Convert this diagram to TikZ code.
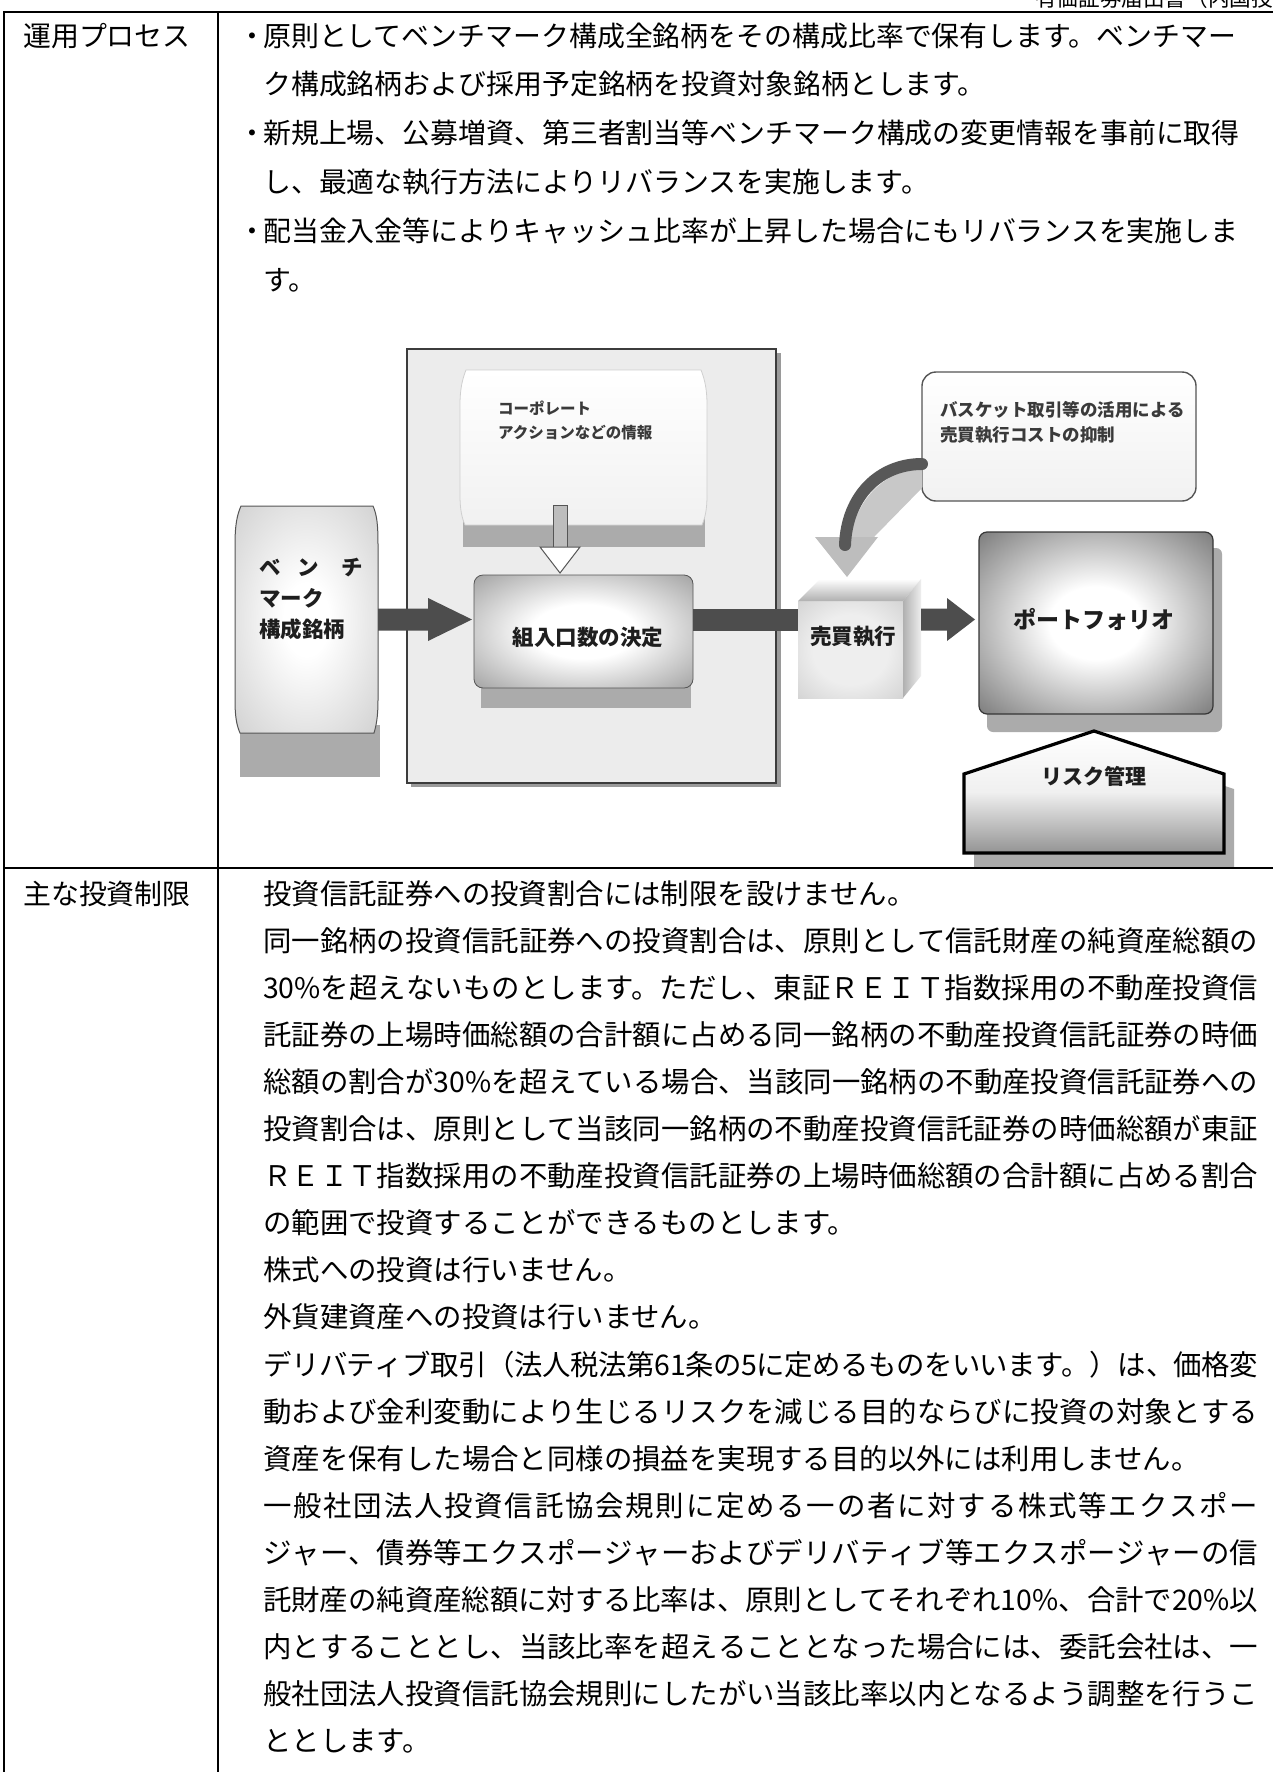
\documentclass[tikz,border=0pt]{standalone}
\usepackage{fontspec}
\setmainfont{Noto Sans CJK JP}
\usetikzlibrary{calc}
\XeTeXlinebreaklocale "ja"
\XeTeXlinebreakskip=0pt plus 1fil minus 3pt
\definecolor{arrowgray}{HTML}{4D4D4D}
\definecolor{panelfill}{HTML}{ECECEC}
\definecolor{panelline}{HTML}{3C3C3C}
\definecolor{panelshadow}{HTML}{9A9A9A}
\definecolor{shadowgray}{HTML}{ABABAB}
\definecolor{benchout}{HTML}{C0C0C0}
\definecolor{kumiout}{HTML}{6A6A6A}
\definecolor{portout}{HTML}{464646}
\definecolor{portout2}{HTML}{363636}
\definecolor{cubein}{HTML}{EEEEEE}
\definecolor{cubeout}{HTML}{B0B0B0}
\definecolor{diagtext}{HTML}{1E1E1E}
\definecolor{softtext}{HTML}{3A3A3A}
\definecolor{headgray}{HTML}{BDBDBD}
\definecolor{bandgray}{HTML}{C8C8C8}
\definecolor{curvegray}{HTML}{585858}
\definecolor{boxline}{HTML}{555555}
\definecolor{hollowfill}{HTML}{BDBDBD}
\definecolor{corpline}{HTML}{CFCFCF}
\definecolor{corpbottom}{HTML}{F1F1F1}
\pgfdeclareradialshading{benchshade}{\pgfpoint{0bp}{0bp}}{color(0bp)=(white); color(8bp)=(white); color(46bp)=(benchout); color(75bp)=(benchout)}
\pgfdeclareradialshading{kumishade}{\pgfpoint{0bp}{0bp}}{color(0bp)=(white); color(12bp)=(white); color(50bp)=(kumiout); color(75bp)=(kumiout)}
\pgfdeclareradialshading{portshade}{\pgfpoint{0bp}{0bp}}{color(0bp)=(white); color(10bp)=(white); color(46bp)=(portout); color(75bp)=(portout2)}
\pgfdeclareradialshading{cubeshade}{\pgfpoint{0bp}{0bp}}{color(0bp)=(cubein); color(18bp)=(cubein); color(60bp)=(cubeout); color(75bp)=(cubeout)}
\tikzset{
  txtA/.style={anchor=base west, inner sep=0pt, font=\fontsize{27.9}{30}\selectfont},
  txtB/.style={anchor=base west, inner sep=0pt, font=\fontsize{28.4}{30}\selectfont},
  diagb/.style={inner sep=0pt, text=diagtext, font=\bfseries\fontsize{#1}{#1}\selectfont},
  diagl/.style={anchor=west, inner sep=0pt, text=softtext, font=\bfseries\fontsize{#1}{#1}\selectfont},
  shadowfill/.style={fill=shadowgray},
  tableline/.style={line width=1.6pt, draw=black},
  ghost/.style={inner sep=0pt, outer sep=0pt, draw=none}
}
\newcommand{\fullline}[1]{\parbox[b]{995pt}{\parfillskip=0pt\relax #1}}
\newcommand{\blockarrow}[3]{\fill[arrowgray] ($(#1)+(0,-11)$) -- ($(#2)+(-#3,-11)$) -- ($(#2)+(-#3,-21.5)$) -- (#2) -- ($(#2)+(-#3,21.5)$) -- ($(#2)+(-#3,11)$) -- ($(#1)+(0,11)$) -- cycle;}
\begin{document}
\begin{tikzpicture}[x=1pt, y=-1pt]
\clip (0,0) rectangle (1273,1772);
\fill[white] (0,0) rectangle (1273,1772);

% header (clipped at the top of the page)
\node[anchor=base west, inner sep=0pt, font=\fontsize{21.6}{22}\selectfont] (hdr) at (1035,6.5) {有価証券届出書（内国投資信託受益証券）};

% ---------------- row 1 text ----------------
\node[txtA] (lab1) at (23,46) {運用プロセス};
\node[txtA] (b1) at (238,46) {・};
\node[txtA] (t1) at (263,46) {原則としてベンチマーク構成全銘柄をその構成比率で保有します。ベンチマー};
\node[txtA] (t2) at (263,94.8) {ク構成銘柄および採用予定銘柄を投資対象銘柄とします。};
\node[txtA] (b3) at (238,143.6) {・};
\node[txtA] (t3) at (263,143.6) {新規上場、公募増資、第三者割当等ベンチマーク構成の変更情報を事前に取得};
\node[txtA] (t4) at (263,192.4) {し、最適な執行方法によりリバランスを実施します。};
\node[txtA] (b5) at (238,241.2) {・};
\node[txtA] (t5) at (263,241.2) {配当金入金等によりキャッシュ比率が上昇した場合にもリバランスを実施しま};
\node[txtA] (t6) at (263,290) {す。};

% ---------------- diagram ----------------
% container panel
\fill[panelshadow] (776,353) rectangle (781,787);
\fill[panelshadow] (411,783) rectangle (781,787);
\node[ghost, draw=panelline, line width=2pt, fill=panelfill, minimum width=369pt, minimum height=434pt, anchor=north west] (panel) at (407,349) {};

% benchmark box
\fill[shadowgray] (240,725) rectangle (380,777);
\path[shade, shading=benchshade, draw=boxline, line width=1pt]
  (241,506) -- (373,506) .. controls (377,515) and (378,525) .. (378,545) -- (378,700)
  .. controls (378,718) and (376,726) .. (374,733) -- (240,733)
  .. controls (237,726) and (235,718) .. (235,700) -- (235,545)
  .. controls (235,525) and (237,515) .. (241,506) -- cycle;
\node[ghost, minimum width=143pt, minimum height=227pt] (bench) at (306.5,619.5) {};
\node[diagb=21.5, anchor=west] (bench1) at (259,568) {ベ\hspace{17pt}ン\hspace{22pt}チ};
\node[diagb=21.5, anchor=west] (bench2) at (259,598) {マーク};
\node[diagb=21.5, anchor=west] (bench3) at (259,629) {構成銘柄};

% corporate action box
\fill[shadowgray] (463,515) rectangle (705,547);
\path[top color=white, bottom color=corpbottom, draw=corpline, line width=0.8pt]
  (466,370) -- (701,370) .. controls (705,380) and (707,390) .. (707,405) -- (707,495)
  .. controls (707,510) and (705,518) .. (702,525) -- (465,525)
  .. controls (462,518) and (460,510) .. (460,495) -- (460,405)
  .. controls (460,390) and (462,380) .. (466,370) -- cycle;
\node[ghost, minimum width=247pt, minimum height=155pt] (corp) at (583.5,447.5) {};
\node[diagl=15.5] (corp1) at (498,408) {コーポレート};
\node[diagl=15.5] (corp2) at (498,433) {アクションなどの情報};

% decision box
\fill[shadowgray] (481,680) rectangle (691,708);
\node[ghost, draw=boxline, line width=0.8pt, rounded corners=9pt, shade, shading=kumishade, minimum width=219pt, minimum height=113pt] (kumi) at (583.5,631.5) {};
\node[diagb=21.5] (kumitext) at (588,637) {組入口数の決定};

% hollow arrow: corporate info -> decision
\coordinate (htip) at ($(kumi.north)+(-23.5,-2)$);
\filldraw[fill=hollowfill, draw=boxline, line width=0.8pt] ($(htip)+(-7,-68)$) rectangle ($(htip)+(7,-26)$);
\filldraw[fill=white, draw=boxline, line width=1pt] ($(htip)+(-20,-26)$) -- ($(htip)+(20,-26)$) -- (htip) -- cycle;

% arrow: benchmark -> decision
\coordinate (a1s) at (bench.east);
\coordinate (a1e) at ($(bench.east -| kumi.west)+(-2,0)$);
\blockarrow{a1s}{a1e}{44}

% cube (execution)
\node[ghost, minimum width=105pt, minimum height=97pt, shade, shading=cubeshade] (cube) at (850.5,649.5) {};
\path[top color=white, bottom color=cubeout] (798,601) -- (820,579) -- (921,579) -- (903,601) -- cycle;
\path[left color=cubeout, right color=cubein] (903,601) -- (921,579) -- (921,676) -- (903,698) -- cycle;
\node[diagb=21.5] (cubetext) at (853,637) {売買執行};

% bar: decision -> execution
\fill[arrowgray] ($(kumi.east |- bench.east)+(0,-11)$) rectangle ($(bench.east -| cube.west)+(0,11)$);

% portfolio
\fill[shadowgray, rounded corners=6pt] (987,548) rectangle (1222,732);
\node[ghost, draw=portout2, line width=1.2pt, rounded corners=8pt, shade, shading=portshade, minimum width=234pt, minimum height=182pt] (port) at (1096,623) {};
\node[diagb=23] (porttext) at (1094,619) {ポートフォリオ};

% arrow: execution -> portfolio
\coordinate (a3s) at ($(cube.east |- bench.east)+(18,0)$);
\coordinate (a3e) at ($(bench.east -| port.west)+(-4,0)$);
\blockarrow{a3s}{a3e}{28}

% risk management pentagon
\fill[shadowgray] (974,789) -- (1104,746) -- (1234,789) -- (1234,868) -- (974,868) -- cycle;
\path[top color=white, bottom color=black!42, middle color=black!6, draw=black, line width=3.2pt, line join=miter]
  (964,774) -- (1094,731) -- (1224,774) -- (1224,853) -- (964,853) -- cycle;
\node[diagb=21] (risktext) at (1094,776) {リスク管理};

% callout
\node[ghost, draw=boxline, line width=1.4pt, rounded corners=14pt, top color=white, bottom color=corpbottom, minimum width=274pt, minimum height=129pt] (callout) at (1059,436.5) {};
\node[diagl=17.5] (call1) at (940,410) {バスケット取引等の活用による};
\node[diagl=17.5] (call2) at (940,435) {売買執行コストの抑制};

% curved arrow: callout -> execution
\coordinate (cstart) at ($(callout.west)+(0,27.5)$);
\coordinate (ctip) at ($(cube.north)+(-3.5,-24)$);
\fill[bandgray] ($(cstart)+(0,4)$) .. controls ($(cstart)+(-37,6)$) and ($(ctip)+(9,-77)$) .. ($(ctip)+(4,-40)$) -- ($(ctip)+(27,-40)$) -- ($(cstart)+(0,24)$) -- cycle;
\fill[headgray] ($(ctip)+(-32,-40)$) -- ($(ctip)+(31,-40)$) -- (ctip) -- cycle;
\draw[curvegray, line width=12pt, line cap=round] (cstart) .. controls ($(cstart)+(-42,0)$) and ($(ctip)+(0,-82)$) .. ($(ctip)+(-2,-32)$);

% ---------------- row 2 text ----------------
\node[txtA] (lab2) at (23,904) {主な投資制限};
\node[txtB] (r1) at (263,904.0) {投資信託証券への投資割合には制限を設けません。};
\node[txtB] (r2) at (263,951.1) {\fullline{同一銘柄の投資信託証券への投資割合は、原則として信託財産の純資産総額の}};
\node[txtB] (r3) at (263,998.2) {\fullline{30\%を超えないものとします。ただし、東証ＲＥＩＴ指数採用の不動産投資信}};
\node[txtB] (r4) at (263,1045.3) {\fullline{託証券の上場時価総額の合計額に占める同一銘柄の不動産投資信託証券の時価}};
\node[txtB] (r5) at (263,1092.4) {\fullline{総額の割合が30\%を超えている場合、当該同一銘柄の不動産投資信託証券への}};
\node[txtB] (r6) at (263,1139.5) {\fullline{投資割合は、原則として当該同一銘柄の不動産投資信託証券の時価総額が東証}};
\node[txtB] (r7) at (263,1186.6) {\fullline{ＲＥＩＴ指数採用の不動産投資信託証券の上場時価総額の合計額に占める割合}};
\node[txtB] (r8) at (263,1233.7) {の範囲で投資することができるものとします。};
\node[txtB] (r9) at (263,1280.8) {株式への投資は行いません。};
\node[txtB] (r10) at (263,1327.9) {外貨建資産への投資は行いません。};
\node[txtB] (r11) at (263,1375.0) {\fullline{デリバティブ取引（法人税法第61条の5に定めるものをいいます。）は、価格変}};
\node[txtB] (r12) at (263,1422.1) {\fullline{動および金利変動により生じるリスクを減じる目的ならびに投資の対象とする}};
\node[txtB] (r13) at (263,1469.2) {資産を保有した場合と同様の損益を実現する目的以外には利用しません。};
\node[txtB] (r14) at (263,1516.3) {\fullline{一般社団法人投資信託協会規則に定める一の者に対する株式等エクスポー}};
\node[txtB] (r15) at (263,1563.4) {\fullline{ジャー、債券等エクスポージャーおよびデリバティブ等エクスポージャーの信}};
\node[txtB] (r16) at (263,1610.5) {\fullline{託財産の純資産総額に対する比率は、原則としてそれぞれ10\%、合計で20\%以}};
\node[txtB] (r17) at (263,1657.6) {\fullline{内とすることとし、当該比率を超えることとなった場合には、委託会社は、一}};
\node[txtB] (r18) at (263,1704.7) {\fullline{般社団法人投資信託協会規則にしたがい当該比率以内となるよう調整を行うこ}};
\node[txtB] (r19) at (263,1751.8) {ととします。};

% ---------------- table rules ----------------
\draw[line width=2.2pt] (3,12) -- (1273,12);
\draw[tableline] (4,12) -- (4,1772);
\draw[tableline] (218,12) -- (218,1772);
\draw[tableline] (4,868) -- (1273,868);
\end{tikzpicture}
\end{document}
